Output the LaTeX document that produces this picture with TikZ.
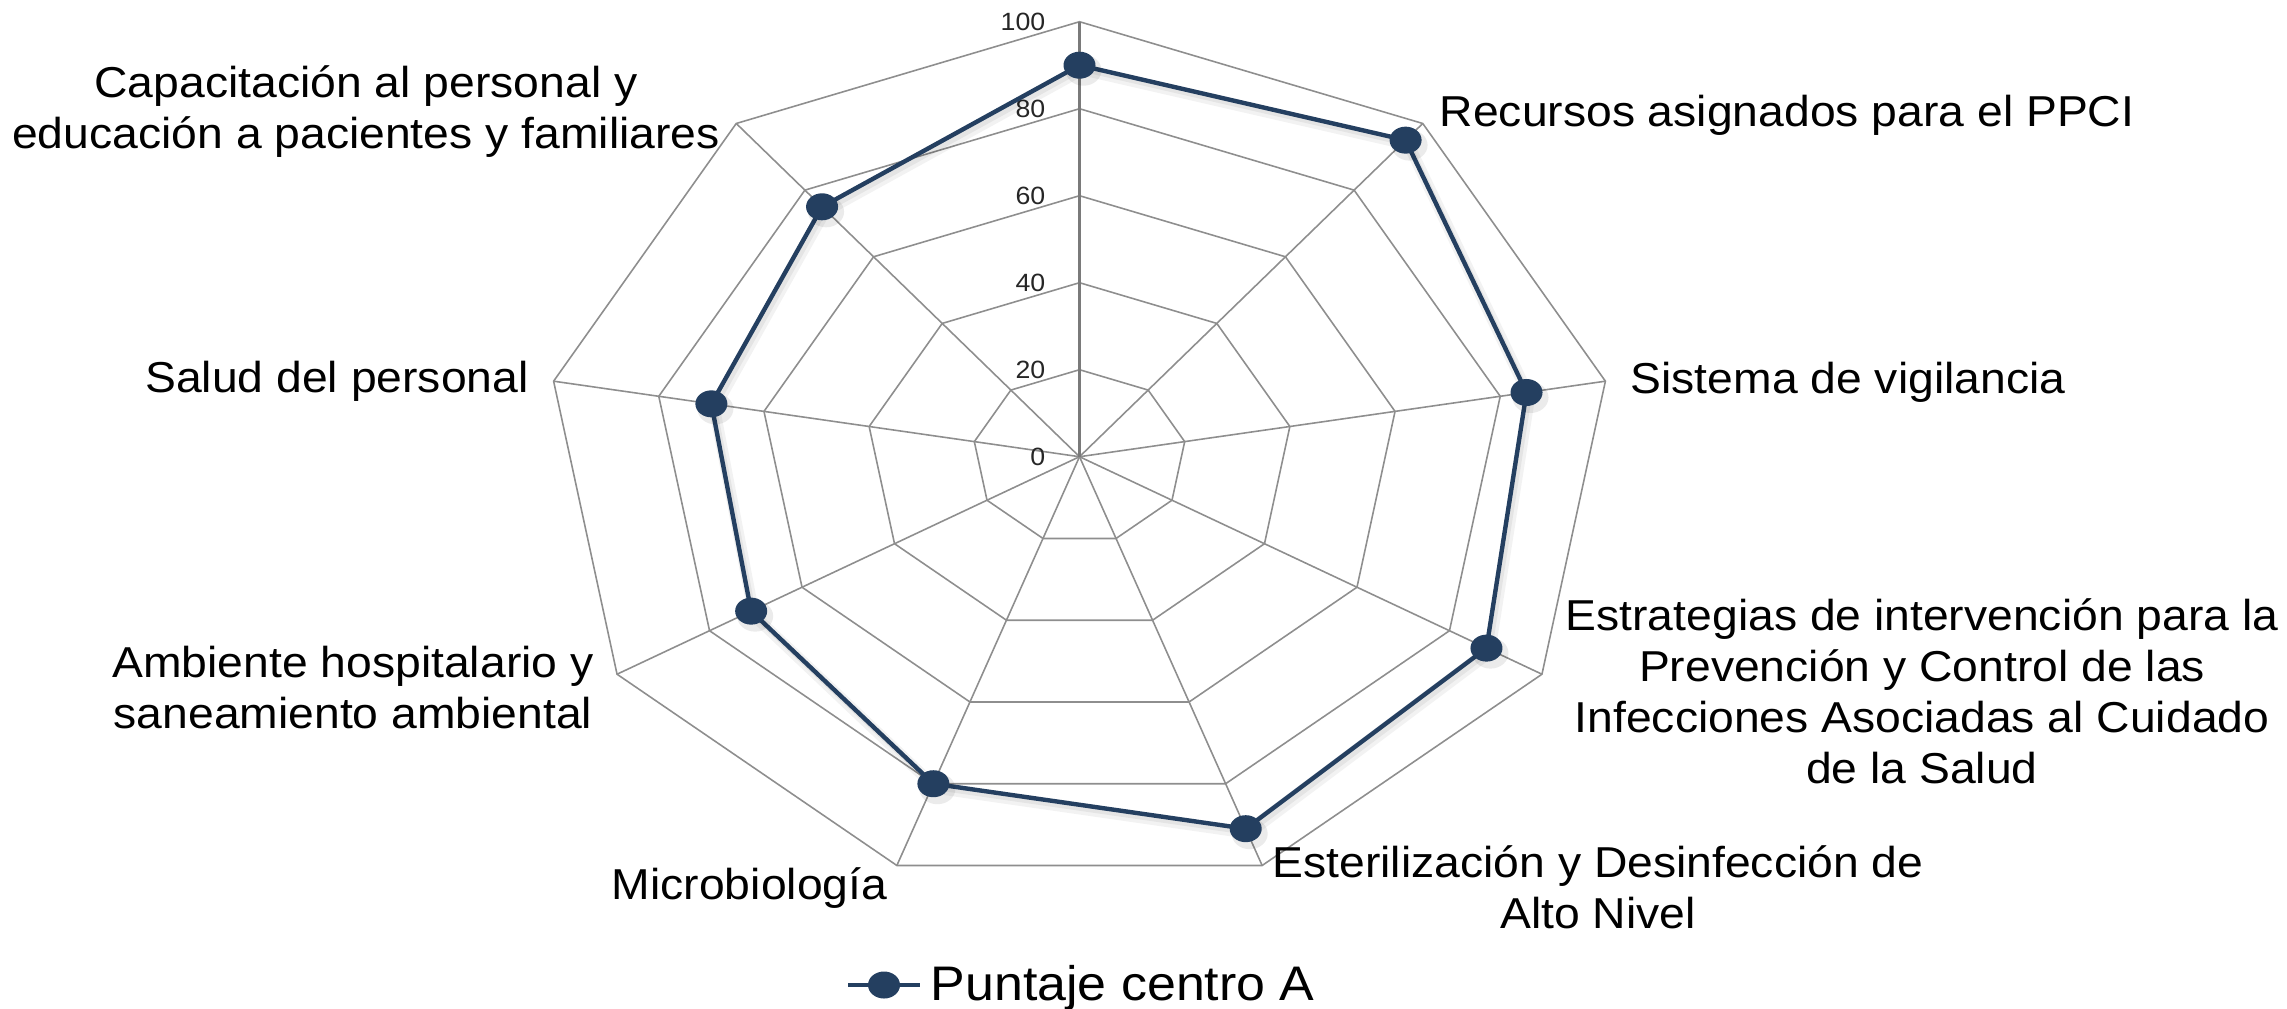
\documentclass[tikz,border=0pt]{standalone}
\usepackage{fontspec}
\setmainfont{Liberation Sans}[FakeStretch=1.07]
\usetikzlibrary{shapes.geometric}
\definecolor{gridc}{HTML}{8E8E8E}
\definecolor{axisc}{HTML}{7A7A7A}
\definecolor{series}{HTML}{243F60}
\begin{document}
\begin{tikzpicture}[x=0.01cm,y=-0.01cm,
  gridline/.style={draw=gridc, line width=0.45pt},
  spoke/.style={draw=gridc, line width=0.45pt},
  valaxis/.style={draw=axisc, line width=0.6pt},
  seriesline/.style={draw=series, line width=1.25pt, line join=round},
  marker/.style={ellipse, fill=series, minimum width=0.32cm, minimum height=0.27cm, inner sep=0pt},
  shadowwide/.style={draw=black, opacity=0.05, line width=3.2pt, line join=round},
  shadownarrow/.style={draw=black, opacity=0.06, line width=1.6pt, line join=round},
  cat/.style={font=\fontsize{12.3}{14.5}\selectfont, align=center, inner sep=0pt},
  tick/.style={font=\fontsize{7.1}{8.5}\selectfont, anchor=base east, inner sep=0pt, text=black!85},
  leg/.style={font=\fontsize{13.8}{16}\selectfont, anchor=base west, inner sep=0pt}]
\useasboundingbox (0,0) rectangle (2287,1008);
\def\ccx{1079.5}\def\ccy{456.7}\def\rrx{5.34}\def\rry{4.35}
\coordinate (O) at (\ccx,\ccy);
% rings
\foreach \r in {20,40,60,80,100} {
  \draw[gridline] ({\ccx},{\ccy-\rry*\r})
   \foreach \k in {1,...,8} { -- ({\ccx+\rrx*\r*cos(90-40*\k)},{\ccy-\rry*\r*sin(90-40*\k)}) } -- cycle;
}
% spokes
\foreach \k in {0,...,8}
  \coordinate (e\k) at ({\ccx+\rrx*100*cos(90-40*\k)},{\ccy-\rry*100*sin(90-40*\k)});
\foreach \k in {1,...,8} \draw[spoke] (O) -- (e\k);
\draw[valaxis] (O) -- (e0);
% tick labels
\foreach \r in {0,20,...,100}
  \node[tick] (t\r) at (1046,{\ccy-\rry*\r+9}) {\r};
% data
\foreach \k/\v in {0/90,1/95,2/85,3/88,4/91,5/80,6/71,7/70,8/75}
  \coordinate (d\k) at ({\ccx+\rrx*\v*cos(90-40*\k)},{\ccy-\rry*\v*sin(90-40*\k)});
\draw[shadowwide, transform canvas={shift={(0.03cm,-0.045cm)}}]
  (d0) -- (d1) -- (d2) -- (d3) -- (d4) -- (d5) -- (d6) -- (d7) -- (d8) -- cycle;
\draw[shadownarrow, transform canvas={shift={(0.025cm,-0.035cm)}}]
  (d0) -- (d1) -- (d2) -- (d3) -- (d4) -- (d5) -- (d6) -- (d7) -- (d8) -- cycle;
\draw[seriesline] (d0) -- (d1) -- (d2) -- (d3) -- (d4) -- (d5) -- (d6) -- (d7) -- (d8) -- cycle;
\foreach \k in {0,...,8}
  \fill[black, opacity=0.08] ([shift={(0.04cm,-0.05cm)}]d\k) ellipse (0.18cm and 0.155cm);
\foreach \k in {0,...,8} \node[marker] (m\k) at (d\k) {};
% category labels
\node[cat, anchor=base] (l1) at (1787,126) {Recursos asignados para el PPCI};
\node[cat, anchor=base] (l2) at (1848,393) {Sistema de vigilancia};
\node[cat] (l3) at (1922,691) {Estrategias de intervención para la\\Prevención y Control de las\\Infecciones Asociadas al Cuidado\\de la Salud};
\node[cat] (l4) at (1598,887) {Esterilización y Desinfección de\\Alto Nivel};
\node[cat, anchor=base] (l5) at (749.5,899) {Microbiología};
\node[cat] (l6) at (353,688) {Ambiente hospitalario y\\saneamiento ambiental};
\node[cat, anchor=base] (l7) at (337,392) {Salud del personal};
\node[cat] (l8) at (366,112) {Capacitación al personal y\\educación a pacientes y familiares};
% legend
\coordinate (lgA) at (848,985);
\coordinate (lgB) at (920,985);
\draw[seriesline] (lgA) -- (lgB);
\node[marker] (lgM) at (884,985) {};
\node[leg] (lgT) at (930,1000) {Puntaje centro A};
\end{tikzpicture}
\end{document}
